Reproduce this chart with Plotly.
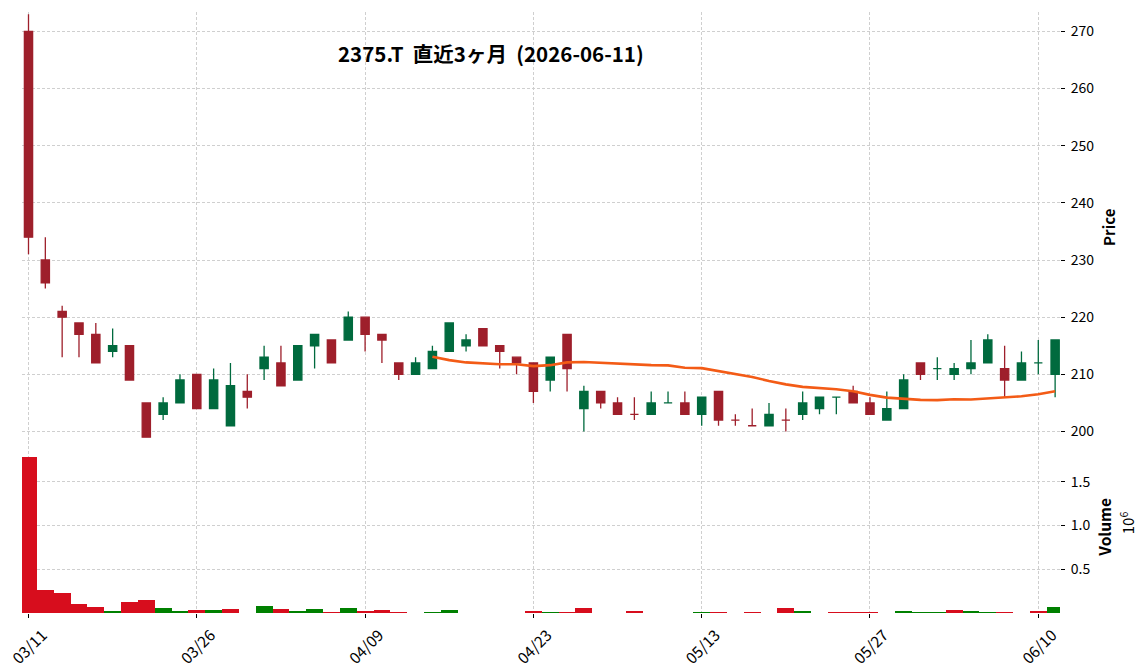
import pandas as pd
import plotly.graph_objects as go
from plotly.subplots import make_subplots

dates = ["03/11", "03/12", "03/13", "03/16", "03/17", "03/18", "03/19", "03/23", "03/24", "03/25",
         "03/26", "03/27", "03/30", "03/31", "04/01", "04/02", "04/03", "04/06", "04/07", "04/08",
         "04/09", "04/10", "04/13", "04/14", "04/15", "04/16", "04/17", "04/20", "04/21", "04/22",
         "04/23", "04/24", "04/27", "04/28", "04/30", "05/01", "05/07", "05/08", "05/11", "05/12",
         "05/13", "05/14", "05/15", "05/18", "05/19", "05/20", "05/21", "05/22", "05/25", "05/26",
         "05/27", "05/28", "05/29", "06/01", "06/02", "06/03", "06/04", "06/05", "06/08", "06/09",
         "06/10", "06/11"]

opens = [270, 230, 221, 219, 217, 214, 215, 205, 203, 205,
         210, 204, 201, 207, 211, 212, 209, 215, 216, 216,
         220, 217, 212, 210, 211, 214, 215, 218, 215, 213,
         212, 209, 217, 204, 207, 205, 203, 203, 205, 205,
         203, 207, 202, 201, 201, 202, 203, 204, 206, 207,
         205, 202, 204, 212, 211, 210, 211, 212, 211, 209,
         212, 210]
highs = [273, 234, 222, 219, 219, 218, 215, 205, 206, 210,
         210, 211, 212, 210, 215, 215, 215, 217, 216, 221,
         220, 217, 212, 213, 215, 219, 217, 218, 215, 213,
         212, 213, 217, 208, 207, 206, 206, 207, 207, 207,
         206, 207, 203, 204, 205, 204, 207, 206, 206, 208,
         206, 207, 210, 212, 213, 212, 216, 217, 215, 214,
         216, 216]
lows = [231, 225, 213, 213, 212, 213, 209, 199, 202, 205,
        204, 204, 201, 204, 209, 208, 209, 211, 212, 216,
        214, 212, 209, 210, 211, 214, 214, 215, 211, 210,
        205, 207, 207, 200, 204, 203, 202, 203, 205, 203,
        201, 201, 201, 201, 201, 200, 202, 203, 203, 205,
        203, 202, 204, 209, 209, 209, 210, 212, 206, 209,
        210, 206]
closes = [234, 226, 220, 217, 212, 215, 209, 199, 205, 209,
          204, 209, 208, 206, 213, 208, 215, 217, 212, 220,
          217, 216, 210, 212, 214, 219, 216, 215, 214, 212,
          207, 213, 211, 207, 205, 203, 203, 205, 205, 203,
          206, 202, 202, 201, 203, 202, 205, 206, 206, 205,
          203, 204, 209, 210, 211, 211, 212, 216, 209, 212,
          212, 216]
volumes = [1786000, 263000, 229000, 103000, 69000, 23000, 126000, 149000, 57000, 23000,
           34000, 34000, 46000, 0, 80000, 46000, 23000, 46000, 11000, 57000,
           23000, 34000, 11000, 0, 11000, 34000, 0, 0, 0, 0,
           23000, 11000, 11000, 57000, 0, 0, 23000, 0, 0, 0,
           11000, 11000, 0, 11000, 0, 57000, 23000, 0, 6000, 6000,
           6000, 0, 23000, 11000, 11000, 34000, 23000, 11000, 11000, 0,
           23000, 73000]
tick_idx = [0, 10, 20, 30, 40, 50, 60]
price_ticks = [200, 210, 220, 230, 240, 250, 260, 270]
vol_ticks = [500000, 1000000, 1500000]
vol_ticktext = ["0.5", "1.0", "1.5"]
title_text = "2375.T\u00a0\u00a0直近3ヶ月\u00a0\u00a0(2026-06-11)"

UP_C = "#006a3e"
DN_C = "#9e1f2b"
VUP_C = "#008000"
VDN_C = "#d70d1d"
MA_C = "#f35b16"
GRID = "#cfcfcf"
FONT = "Noto Sans CJK JP"

x = list(range(len(dates)))
ma = pd.Series(closes).rolling(25).mean()
vcolors = [VDN_C] + [VUP_C if closes[i] > closes[i - 1] else VDN_C for i in range(1, len(closes))]

fig = make_subplots(rows=2, cols=1, shared_xaxes=True, vertical_spacing=0,
                    row_heights=[429, 172])

fig.add_trace(go.Candlestick(
    x=x, open=opens, high=highs, low=lows, close=closes,
    increasing=dict(line=dict(color=UP_C, width=1.3), fillcolor=UP_C),
    decreasing=dict(line=dict(color=DN_C, width=1.3), fillcolor=DN_C),
    whiskerwidth=0, showlegend=False, hoverinfo="skip"), row=1, col=1)

fig.add_trace(go.Scatter(x=x, y=ma, mode="lines", line=dict(color=MA_C, width=2.6),
                         showlegend=False, hoverinfo="skip"), row=1, col=1)

fig.add_trace(go.Bar(x=x, y=volumes, marker=dict(color=vcolors, line=dict(width=0)),
                     width=1.0, showlegend=False, hoverinfo="skip"), row=2, col=1)

axis_common = dict(showgrid=True, gridcolor=GRID, griddash="3px,2px", gridwidth=1,
                   zeroline=False, showline=False, automargin=False)

fig.update_xaxes(range=[-0.386, 61.29], tickvals=tick_idx,
                 ticktext=[dates[i] for i in tick_idx], **axis_common)
fig.update_xaxes(showticklabels=False, ticks="", rangeslider=dict(visible=False), row=1, col=1)
fig.update_xaxes(showticklabels=True, ticks="outside", ticklen=4, tickcolor="black",
                 tickangle=-45, ticklabeloverflow="allow", ticklabelshift=14, ticklabelstandoff=2,
                 tickfont=dict(family=FONT, size=15.5, color="black"), row=2, col=1)

fig.update_yaxes(side="right", range=[198.33, 273.4], tickvals=price_ticks,
                 ticks="outside", ticklen=4, tickcolor="black", ticklabelstandoff=3,
                 tickfont=dict(family=FONT, size=14, color="black"), row=1, col=1, **axis_common)
fig.update_yaxes(side="right", range=[0, 1965000], tickvals=vol_ticks, ticktext=vol_ticktext,
                 ticks="outside", ticklen=4, tickcolor="black", ticklabelstandoff=3,
                 tickfont=dict(family=FONT, size=14, color="black"), row=2, col=1, **axis_common)

fig.add_annotation(xref="paper", yref="paper", x=0.4518, y=0.932, xanchor="center", yanchor="middle",
                   text="<b>" + title_text + "</b>", showarrow=False,
                   font=dict(family=FONT, size=20.5, color="black"))
fig.add_annotation(xref="paper", yref="paper", x=1.046, y=0.642, xanchor="center", yanchor="middle",
                   text="<b>Price</b>", textangle=-90, showarrow=False,
                   font=dict(family=FONT, size=15, color="black"))
fig.add_annotation(xref="paper", yref="paper", x=1.042, y=0.143, xanchor="center", yanchor="middle",
                   text="<b>Volume</b>", textangle=-90, showarrow=False,
                   font=dict(family=FONT, size=15.5, color="black"))
fig.add_annotation(xref="paper", yref="paper", x=1.0645, y=0.151, xanchor="center", yanchor="middle",
                   text="10<sup>6</sup>", textangle=-90, showarrow=False,
                   font=dict(family=FONT, size=15, color="black"))

fig.update_layout(width=1148, height=670, margin=dict(l=22, r=88, t=12, b=57, autoexpand=False),
                  paper_bgcolor="white", plot_bgcolor="white", bargap=0,
                  font=dict(family=FONT, color="black"), showlegend=False)

fig.write_html("out.html")
